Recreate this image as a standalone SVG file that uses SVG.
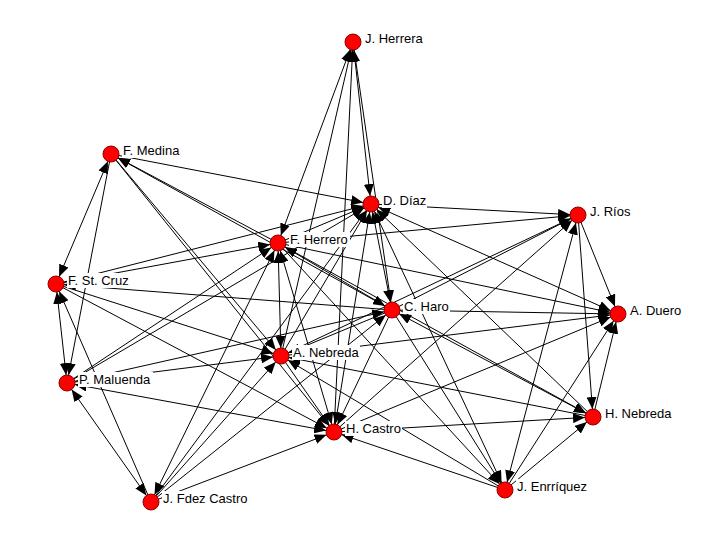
<svg xmlns="http://www.w3.org/2000/svg" width="720" height="540" viewBox="0 0 720 540">
<style>
line{stroke:#000;stroke-width:1}
.e{marker-end:url(#ah)}
.b{marker-start:url(#as);marker-end:url(#ah)}
.n circle{fill:#f00;stroke:#8b0000;stroke-width:1}
.n rect{fill:#fff}
.n text{font-family:"Liberation Sans",Arial,sans-serif;font-size:13px;fill:#000}
</style>
<defs>
<marker id="ah" viewBox="0 0 12 10" refX="20" refY="5" markerWidth="12" markerHeight="10" markerUnits="userSpaceOnUse" orient="auto"><path d="M0,0L12,5L0,10z"/></marker>
<marker id="as" viewBox="0 0 12 10" refX="20" refY="5" markerWidth="12" markerHeight="10" markerUnits="userSpaceOnUse" orient="auto-start-reverse"><path d="M0,0L12,5L0,10z"/></marker>
</defs>
<rect width="720" height="540" fill="#fff"/>
<g id="edges">
<line class="b" x1="353" y1="42" x2="278" y2="243"/>
<line class="b" x1="353" y1="42" x2="371" y2="204"/>
<line class="b" x1="111" y1="154" x2="56" y2="284"/>
<line class="b" x1="56" y1="284" x2="67" y2="383"/>
<line class="b" x1="67" y1="383" x2="151" y2="502"/>
<line class="b" x1="278" y1="243" x2="392" y2="310"/>
<line class="b" x1="278" y1="243" x2="281" y2="356"/>
<line class="b" x1="392" y1="310" x2="593" y2="417"/>
<line class="b" x1="67" y1="383" x2="334" y2="432"/>
<line class="b" x1="371" y1="204" x2="334" y2="432"/>
<line class="b" x1="151" y1="502" x2="278" y2="243"/>
<line class="b" x1="578" y1="215" x2="505" y2="490"/>
<line class="b" x1="371" y1="204" x2="392" y2="310"/>
<line class="b" x1="371" y1="204" x2="618" y2="314"/>
<line class="b" x1="371" y1="204" x2="505" y2="490"/>
<line class="b" x1="278" y1="243" x2="334" y2="432"/>
<line class="e" x1="281" y1="356" x2="353" y2="42"/>
<line class="e" x1="334" y1="432" x2="353" y2="42"/>
<line class="e" x1="353" y1="42" x2="392" y2="310"/>
<line class="e" x1="111" y1="154" x2="67" y2="383"/>
<line class="e" x1="111" y1="154" x2="371" y2="204"/>
<line class="e" x1="278" y1="243" x2="111" y2="154"/>
<line class="e" x1="392" y1="310" x2="111" y2="154"/>
<line class="e" x1="111" y1="154" x2="281" y2="356"/>
<line class="e" x1="111" y1="154" x2="334" y2="432"/>
<line class="e" x1="56" y1="284" x2="371" y2="204"/>
<line class="e" x1="56" y1="284" x2="278" y2="243"/>
<line class="e" x1="392" y1="310" x2="56" y2="284"/>
<line class="e" x1="56" y1="284" x2="281" y2="356"/>
<line class="e" x1="56" y1="284" x2="334" y2="432"/>
<line class="e" x1="151" y1="502" x2="56" y2="284"/>
<line class="e" x1="67" y1="383" x2="278" y2="243"/>
<line class="e" x1="67" y1="383" x2="371" y2="204"/>
<line class="e" x1="67" y1="383" x2="281" y2="356"/>
<line class="e" x1="67" y1="383" x2="392" y2="310"/>
<line class="e" x1="151" y1="502" x2="371" y2="204"/>
<line class="e" x1="151" y1="502" x2="281" y2="356"/>
<line class="e" x1="151" y1="502" x2="392" y2="310"/>
<line class="e" x1="151" y1="502" x2="334" y2="432"/>
<line class="e" x1="371" y1="204" x2="578" y2="215"/>
<line class="e" x1="278" y1="243" x2="371" y2="204"/>
<line class="e" x1="281" y1="356" x2="371" y2="204"/>
<line class="e" x1="593" y1="417" x2="371" y2="204"/>
<line class="e" x1="278" y1="243" x2="578" y2="215"/>
<line class="e" x1="278" y1="243" x2="618" y2="314"/>
<line class="e" x1="278" y1="243" x2="593" y2="417"/>
<line class="e" x1="278" y1="243" x2="505" y2="490"/>
<line class="e" x1="392" y1="310" x2="578" y2="215"/>
<line class="e" x1="392" y1="310" x2="618" y2="314"/>
<line class="e" x1="392" y1="310" x2="281" y2="356"/>
<line class="e" x1="392" y1="310" x2="334" y2="432"/>
<line class="e" x1="392" y1="310" x2="505" y2="490"/>
<line class="e" x1="281" y1="356" x2="578" y2="215"/>
<line class="e" x1="281" y1="356" x2="618" y2="314"/>
<line class="e" x1="593" y1="417" x2="281" y2="356"/>
<line class="e" x1="281" y1="356" x2="334" y2="432"/>
<line class="e" x1="505" y1="490" x2="281" y2="356"/>
<line class="e" x1="334" y1="432" x2="578" y2="215"/>
<line class="e" x1="334" y1="432" x2="618" y2="314"/>
<line class="e" x1="505" y1="490" x2="334" y2="432"/>
<line class="e" x1="334" y1="432" x2="593" y2="417"/>
<line class="e" x1="578" y1="215" x2="618" y2="314"/>
<line class="e" x1="578" y1="215" x2="593" y2="417"/>
<line class="e" x1="593" y1="417" x2="618" y2="314"/>
<line class="e" x1="505" y1="490" x2="618" y2="314"/>
<line class="e" x1="505" y1="490" x2="593" y2="417"/>
</g>
<g id="n-jherrera" class="n"><circle cx="353" cy="42" r="8"/><rect x="364" y="31" width="60" height="15"/><text x="365" y="43">J. Herrera</text></g>
<g id="n-fmedina" class="n"><circle cx="111" cy="154" r="8"/><rect x="122" y="143" width="60" height="15"/><text x="123" y="155">F. Medina</text></g>
<g id="n-ddiaz" class="n"><circle cx="371" cy="204" r="8"/><rect x="382" y="193" width="45" height="15"/><text x="383" y="205">D. Díaz</text></g>
<g id="n-jrios" class="n"><circle cx="578" cy="215" r="8"/><rect x="589" y="204" width="43" height="15"/><text x="590" y="216">J. Ríos</text></g>
<g id="n-fherrero" class="n"><circle cx="278" cy="243" r="8"/><rect x="289" y="232" width="61" height="15"/><text x="290" y="244">F. Herrero</text></g>
<g id="n-fstcruz" class="n"><circle cx="56" cy="284" r="8"/><rect x="67" y="273" width="64" height="15"/><text x="68" y="285">F. St. Cruz</text></g>
<g id="n-charo" class="n"><circle cx="392" cy="310" r="8"/><rect x="403" y="299" width="47" height="15"/><text x="404" y="311">C. Haro</text></g>
<g id="n-aduero" class="n"><circle cx="618" cy="314" r="8"/><rect x="629" y="303" width="53" height="15"/><text x="630" y="315">A. Duero</text></g>
<g id="n-anebreda" class="n"><circle cx="281" cy="356" r="8"/><rect x="292" y="345" width="68" height="15"/><text x="293" y="357">A. Nebreda</text></g>
<g id="n-pmaluenda" class="n"><circle cx="67" cy="383" r="8"/><rect x="78" y="372" width="75" height="15"/><text x="79" y="384">P. Maluenda</text></g>
<g id="n-hnebreda" class="n"><circle cx="593" cy="417" r="8"/><rect x="604" y="406" width="69" height="15"/><text x="605" y="418">H. Nebreda</text></g>
<g id="n-hcastro" class="n"><circle cx="334" cy="432" r="8"/><rect x="345" y="421" width="57" height="15"/><text x="346" y="433">H. Castro</text></g>
<g id="n-jfdezcastro" class="n"><circle cx="151" cy="502" r="8"/><rect x="162" y="491" width="87" height="15"/><text x="163" y="503">J. Fdez Castro</text></g>
<g id="n-jenrriquez" class="n"><circle cx="505" cy="490" r="8"/><rect x="516" y="479" width="71" height="15"/><text x="517" y="491">J. Enrríquez</text></g>
</svg>
